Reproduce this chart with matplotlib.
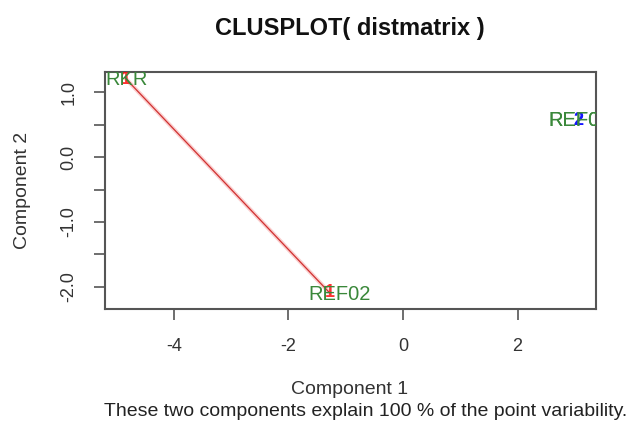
import matplotlib
matplotlib.use("Agg")
import matplotlib.pyplot as plt
import numpy as np

plt.rcParams['font.family'] = ['Liberation Sans', 'DejaVu Sans']

# Data (component scores)
names = ["RKR", "REF02", "REF05", "REF06"]
comp1 = [-4.83, -1.28, 3.07, 3.07]
comp2 = [1.20, -2.09, 0.56, 0.56]
cluster = [1, 1, 2, 2]
label_x = [-4.83, -1.10, 3.09, 3.09]
label_y = [1.19, -2.12, 0.56, 0.56]

xticks = [-4, -2, 0, 2]
yticks = [-2.0, -1.5, -1.0, -0.5, 0.0, 0.5, 1.0]
ylabels = ["-2.0", "", "-1.0", "", "0.0", "", "1.0"]

cols = {1: "#ff1010", 2: "#1010ff"}
txtcol = "#3a883a"
axcol = "#555555"

fig = plt.figure(figsize=(6.29, 4.30), dpi=100)
ax = fig.add_axes([105/629, 1-309/430, (596-105)/629, (309-72)/430])
ax.set_xlim(-5.2, 3.37)
ax.set_ylim(-2.34, 1.31)

# degenerate ellipse of cluster 1 (segment)
c1x = [x for x, c in zip(comp1, cluster) if c == 1]
c1y = [y for y, c in zip(comp2, cluster) if c == 1]
ax.plot(c1x, c1y, color="#f06060", lw=3.0, alpha=0.3, zorder=2)
ax.plot(c1x, c1y, color="#d03030", lw=0.9, zorder=2)

for x, y, c in zip(comp1, comp2, cluster):
    ax.text(x, y, str(c), color=cols[c], fontsize=13, fontweight='bold',
            ha='center', va='center', zorder=3, clip_on=True, alpha=0.85)

for lx, ly, n in zip(label_x, label_y, names):
    ax.text(lx, ly, n, color=txtcol, fontsize=14.5, ha='center', va='center',
            zorder=4, clip_on=True)

ax.set_xticks(xticks)
ax.set_xticklabels([str(t) for t in xticks])
ax.set_yticks(yticks)
ax.set_yticklabels(ylabels, rotation=90, va='center')
ax.tick_params(axis='both', direction='out', length=8, width=1.2, colors=axcol,
               labelsize=13, labelcolor="#333333")
ax.tick_params(axis='x', pad=13)
ax.tick_params(axis='y', pad=12)
for s in ax.spines.values():
    s.set_color(axcol)
    s.set_linewidth(1.5)

fig.text(350/629, 1-29/430, "CLUSPLOT( distmatrix )", ha='center', va='center',
         fontsize=17, fontweight='bold', color="#111111")
fig.text(350/629, 1-390/430, "Component 1", ha='center', va='center',
         fontsize=14, color="#333333")
fig.text(366/629, 1-411/430, "These two components explain 100 % of the point variability.",
         ha='center', va='center', fontsize=14, color="#222222")
fig.text(23/629, 1-190/430, "Component 2", ha='center', va='center',
         rotation=90, fontsize=14, color="#333333")

fig.savefig("out.png", dpi=100)
